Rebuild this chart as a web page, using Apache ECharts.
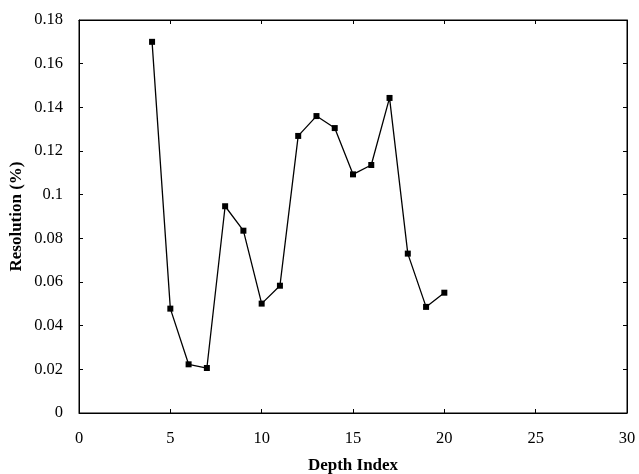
<!DOCTYPE html>
<html>
<head>
<meta charset="utf-8">
<script src="https://cdn.jsdelivr.net/npm/echarts@6/dist/echarts.min.js"></script>
<style>
  html, body { margin: 0; padding: 0; background: #fff; }
  #chart { width: 639px; height: 474px; }
</style>
</head>
<body>
<div id="chart"></div>
<script>
// Resolution measured at each depth index
const depthIndex = [4, 5, 6, 7, 8, 9, 10, 11, 12, 13, 14, 15, 16, 17, 18, 19, 20];
const resolution = [0.170, 0.0478, 0.0223, 0.0206, 0.0947, 0.0835, 0.0501, 0.0583,
                    0.1269, 0.1360, 0.1305, 0.1093, 0.1136, 0.1443, 0.0730, 0.0486, 0.0551];

const xTitle = 'Depth Index';
const yTitle = 'Resolution (%)';

const font = 'Liberation Serif, Times New Roman, serif';
const ink = '#000';

// Axis with a plain black line and short inward ticks
function frameAxis(extra) {
  return Object.assign({
    show: true,
    axisLine: { show: true, onZero: false, lineStyle: { color: ink, width: 1 } },
    axisTick: { show: true, inside: true, length: 4, lineStyle: { color: ink, width: 1 } },
    splitLine: { show: false }
  }, extra);
}

const chart = echarts.init(document.getElementById('chart'), null, { renderer: 'canvas' });

chart.setOption({
  animation: false,
  backgroundColor: '#fff',
  grid: {
    left: 79, right: 12, top: 20, bottom: 61, containLabel: false,
    outerBoundsMode: 'none',
    show: true, borderColor: ink, borderWidth: 1, backgroundColor: 'transparent'
  },
  xAxis: [
    frameAxis({
      type: 'value', min: 0, max: 30, interval: 5, position: 'bottom',
      name: xTitle, nameLocation: 'middle', nameGap: 44,
      nameTextStyle: { fontFamily: font, fontWeight: 'bold', fontSize: 17, color: ink },
      axisLabel: { show: true, fontFamily: font, fontSize: 16.5, color: ink, margin: 17 }
    }),
    frameAxis({
      type: 'value', min: 0, max: 30, interval: 5, position: 'top',
      axisLabel: { show: false }
    })
  ],
  yAxis: [
    frameAxis({
      type: 'value', min: 0, max: 0.18, interval: 0.02, position: 'left',
      name: yTitle, nameLocation: 'middle', nameGap: 54, nameRotate: 90,
      nameMoveOverlap: false,
      nameTextStyle: { fontFamily: font, fontWeight: 'bold', fontSize: 17, color: ink },
      axisLabel: {
        show: true, fontFamily: font, fontSize: 16.5, color: ink, margin: 16,
        formatter: v => String(+v.toFixed(2))
      }
    }),
    frameAxis({
      type: 'value', min: 0, max: 0.18, interval: 0.02, position: 'right',
      axisLabel: { show: false }
    })
  ],
  series: [{
    type: 'line',
    xAxisIndex: 0,
    yAxisIndex: 0,
    data: depthIndex.map((d, i) => [d, resolution[i]]),
    symbol: 'rect',
    symbolSize: 6,
    lineStyle: { color: ink, width: 1.3 },
    itemStyle: { color: ink },
    z: 3
  }, {
    // empty series bound to the top/right axes so they are laid out
    type: 'line',
    xAxisIndex: 1,
    yAxisIndex: 1,
    data: [],
    silent: true
  }]
});
</script>
</body>
</html>
